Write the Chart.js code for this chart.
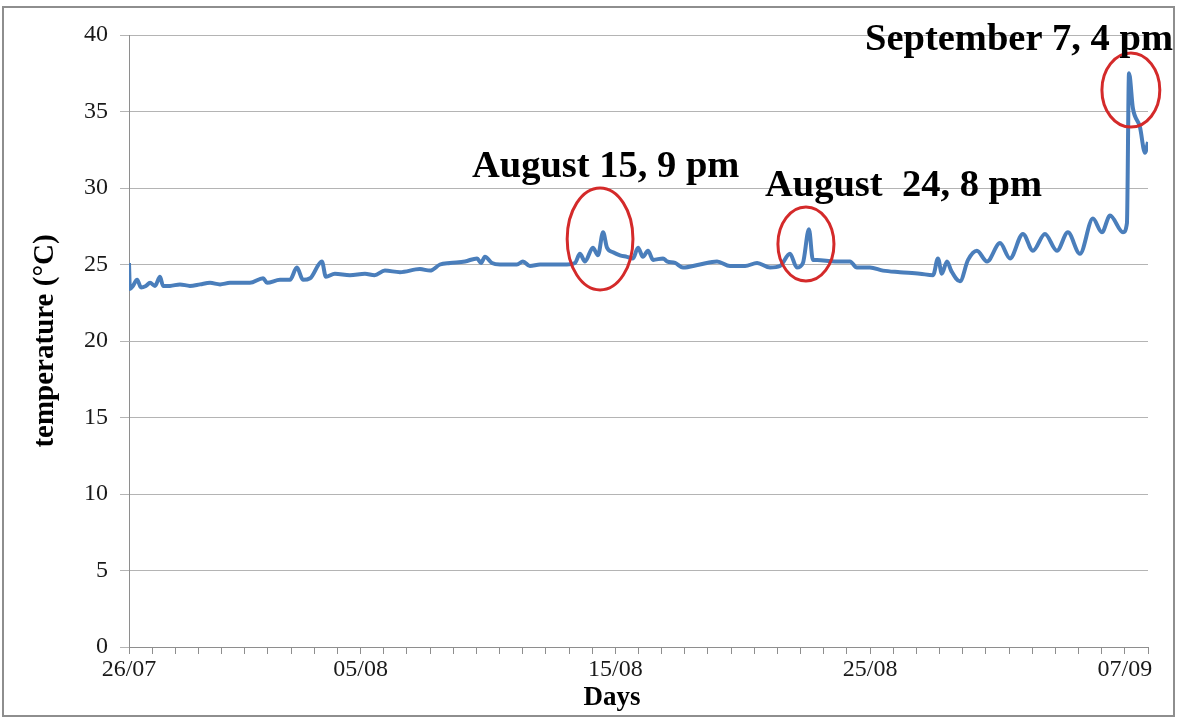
<!DOCTYPE html>
<html>
<head>
<meta charset="utf-8">
<script src="https://cdn.jsdelivr.net/npm/chart.js@4.4.0/dist/chart.umd.min.js"></script>
<style>
  html, body { margin: 0; padding: 0; background: #fff; }
  #wrap { width: 1200px; height: 720px; }
</style>
</head>
<body>
<div id="wrap"><canvas id="grafico" width="1200" height="720"></canvas></div>
<script>
// position along the day axis (one unit = one tick mark) and temperature
const days = [0, 0.04, 0.17, 0.35, 0.52, 0.73, 0.91, 1.12, 1.34, 1.47, 1.77, 2.2, 2.63, 3.07, 3.5, 3.93,
  4.36, 4.79, 5.22, 5.79, 5.96, 6.52, 6.95, 7.25, 7.51, 7.82, 8.33, 8.5, 8.89, 9.54, 10.19, 10.6,
  11.05, 11.7, 12.56, 13.0, 13.43, 13.86, 14.51, 15.03, 15.2, 15.37, 15.67, 16.02, 16.75, 17.01,
  17.31, 17.75, 18.39, 18.91, 19.26, 19.47, 19.69, 20.03, 20.25, 20.47, 20.64, 20.9, 21.2, 21.5,
  21.76, 21.98, 22.19, 22.41, 22.63, 23.06, 23.23, 23.58, 23.92, 24.65, 25.39, 25.95, 26.6, 27.12,
  27.68, 28.11, 28.54, 28.84, 29.1, 29.36, 29.53, 29.71, 30.48, 31.13, 31.43, 31.99, 32.56, 33.29,
  34.15, 34.72, 34.93, 35.1, 35.32, 35.5, 35.88, 36.23, 36.61, 37.05, 37.61, 38.04, 38.6, 39.03,
  39.55, 40.07, 40.54, 41.06, 41.62, 42.01, 42.36, 42.92, 43.09, 43.18, 43.35, 43.65, 43.87, 44.0];
const temperaturas = [25.1, 23.4, 23.6, 24.0, 23.5, 23.6, 23.8, 23.6, 24.2, 23.6, 23.6, 23.7, 23.6, 23.7, 23.8, 23.7,
  23.8, 23.8, 23.8, 24.1, 23.8, 24.0, 24.0, 24.8, 24.0, 24.1, 25.2, 24.2, 24.4, 24.3, 24.4, 24.3,
  24.6, 24.5, 24.7, 24.6, 25.0, 25.1, 25.2, 25.4, 25.1, 25.5, 25.1, 25.0, 25.0, 25.2,
  24.9, 25.0, 25.0, 25.0, 25.1, 25.7, 25.2, 26.1, 25.6, 27.1, 26.1, 25.8, 25.6, 25.5,
  25.4, 26.1, 25.5, 25.9, 25.3, 25.4, 25.2, 25.1, 24.8, 25.0, 25.2, 24.9, 24.9, 25.1,
  24.8, 24.9, 25.7, 24.8, 25.1, 27.3, 25.3, 25.3, 25.2, 25.2, 24.8, 24.8, 24.6, 24.5,
  24.4, 24.3, 25.4, 24.4, 25.2, 24.6, 23.9, 25.3, 25.9, 25.2, 26.4, 25.4, 27.0, 25.9,
  27.0, 25.9, 27.1, 25.7, 28.0, 27.1, 28.2, 27.1, 27.7, 37.5, 35.2, 34.0, 32.3, 33.0];

// tick labels of the day axis
const rotulosDias = { 0: '26/07', 10: '05/08', 21: '15/08', 32: '25/08', 43: '07/09' };

// highlighted events (centre and radii in axis units, label anchor in axis units)
const eventos = [
  { texto: 'August 15, 9 pm',   tx: 14.81, ty: 30.72, cx: 20.34, cy: 26.67, rx: 1.42, ry: 3.33 },
  { texto: 'August  24, 8 pm',  tx: 27.46, ty: 29.48, cx: 29.23, cy: 26.34, rx: 1.21, ry: 2.42 },
  { texto: 'September 7, 4 pm', tx: 31.78, ty: 39.02, cx: 43.26, cy: 36.40, rx: 1.25, ry: 2.42 }
];

const serif = '"Liberation Serif", "Times New Roman", serif';

const pontos = days.map((d, i) => ({ x: d, y: temperaturas[i] }));

// draws the frame, axis titles, circles and event labels
const extras = {
  id: 'extras',
  afterDraw(chart) {
    const ctx = chart.ctx;
    const sx = chart.scales.x, sy = chart.scales.y;
    ctx.save();

    ctx.strokeStyle = '#8e8e8e';
    ctx.lineWidth = 2;
    ctx.strokeRect(3, 7, 1171, 709);

    ctx.fillStyle = '#000';
    ctx.font = 'bold 29px ' + serif;
    ctx.textAlign = 'center';
    ctx.textBaseline = 'middle';
    ctx.save();
    ctx.translate(46, 341);
    ctx.rotate(-Math.PI / 2);
    ctx.fillText('temperature (°C)', 0, 0);
    ctx.restore();

    ctx.font = 'bold 27px ' + serif;
    ctx.textBaseline = 'alphabetic';
    ctx.fillText('Days', 612, 705);

    eventos.forEach(ev => {
      const cx = sx.getPixelForValue(ev.cx), cy = sy.getPixelForValue(ev.cy);
      const rx = sx.getPixelForValue(ev.cx + ev.rx) - cx;
      const ry = cy - sy.getPixelForValue(ev.cy + ev.ry);
      ctx.beginPath();
      ctx.ellipse(cx, cy, rx, ry, 0, 0, Math.PI * 2);
      ctx.strokeStyle = '#d42a2a';
      ctx.lineWidth = 3;
      ctx.stroke();

      ctx.font = 'bold 38.5px ' + serif;
      ctx.textAlign = 'left';
      ctx.fillStyle = '#000';
      ctx.fillText(ev.texto, sx.getPixelForValue(ev.tx), sy.getPixelForValue(ev.ty));
    });
    ctx.restore();
  }
};

const config = {
  type: 'line',
  data: {
    datasets: [{
      data: pontos,
      borderColor: '#4a7ebb',
      borderWidth: 4,
      pointRadius: 0,
      fill: false,
      cubicInterpolationMode: 'monotone'
    }]
  },
  options: {
    responsive: false,
    animation: false,
    layout: { padding: { top: 35, right: 52, left: 0, bottom: 0 } },
    plugins: { legend: { display: false }, tooltip: { enabled: false } },
    scales: {
      x: {
        type: 'linear',
        min: 0,
        max: 44,
        afterFit: s => { s.height = 73; },
        border: { color: '#8e8e8e', width: 1 },
        grid: { drawOnChartArea: false, tickLength: 7, color: '#8e8e8e' },
        ticks: {
          stepSize: 1,
          autoSkip: false,
          maxRotation: 0,
          padding: 1,
          color: '#1a1a1a',
          font: { family: serif, size: 24 },
          callback: v => rotulosDias[v] || ''
        }
      },
      y: {
        min: 0,
        max: 40,
        afterFit: s => { s.width = 129; },
        border: { color: '#8e8e8e', width: 1 },
        grid: { color: '#b4b4b4', tickLength: 9 },
        ticks: {
          stepSize: 5,
          padding: 12,
          color: '#1a1a1a',
          font: { family: serif, size: 24 }
        }
      }
    }
  },
  plugins: [extras]
};

new Chart(document.getElementById('grafico'), config);
</script>
</body>
</html>
